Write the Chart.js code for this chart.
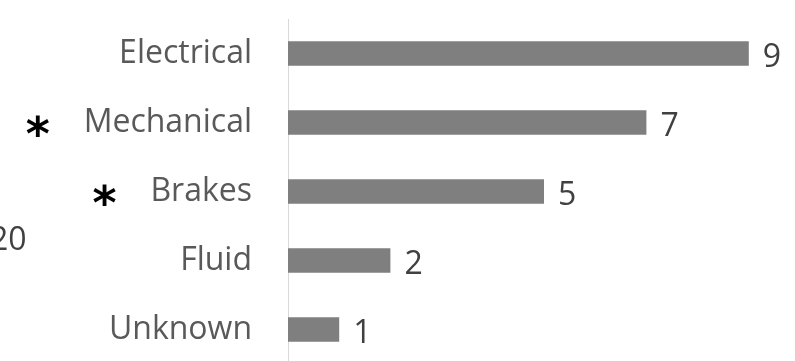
<!DOCTYPE html>
<html>
<head>
<meta charset="utf-8">
<script src="https://cdn.jsdelivr.net/npm/chart.js@4/dist/chart.umd.min.js"></script>
<style>
  html, body { margin: 0; padding: 0; background: #fff; overflow: hidden; }
  #wrap { position: relative; width: 795px; height: 361px; overflow: hidden; }
  #failChart { position: absolute; left: 0; top: 0; }
  /* clipped text of a neighbouring chart, left edge */
  .side-note { position: absolute; left: -10px; top: 222px; font: 32px/32px 'Open Sans'; color: #404040; }
</style>
</head>
<body>
<div id="wrap">
  <canvas id="failChart" width="800" height="366"></canvas>
  <div class="side-note">20</div>
</div>
<script>
const categories = ['Electrical', 'Mechanical', 'Brakes', 'Fluid', 'Unknown'];
const counts = [9, 7, 5, 2, 1];
const flagged = ['Mechanical', 'Brakes'];

const labelFont = { family: 'Open Sans', size: 32 };

// values written past the end of each bar
const valueLabels = {
  id: 'valueLabels',
  afterDatasetsDraw(chart) {
    const ctx = chart.ctx;
    const meta = chart.getDatasetMeta(0);
    ctx.save();
    ctx.font = labelFont.size + 'px ' + labelFont.family;
    ctx.fillStyle = '#404040';
    ctx.textAlign = 'left';
    ctx.textBaseline = 'middle';
    meta.data.forEach(function (bar, i) {
      ctx.fillText(String(counts[i]), bar.x + 14, bar.y + 4);
    });
    ctx.restore();
  }
};

// black asterisk in front of flagged categories
const asterisks = {
  id: 'asterisks',
  afterDraw(chart) {
    const ctx = chart.ctx;
    const yScale = chart.scales.y;
    const labelRight = yScale.right - yScale.options.ticks.padding;
    ctx.save();
    flagged.forEach(function (name) {
      const idx = categories.indexOf(name);
      if (idx < 0) return;
      ctx.font = labelFont.size + 'px ' + labelFont.family;
      const labelLeft = labelRight - ctx.measureText(name).width;
      ctx.font = 'bold 46px DejaVu Sans';
      const m = ctx.measureText('*');
      const inkRight = labelLeft - 34;
      const cy = yScale.getPixelForValue(idx) + 3;
      const x = inkRight - m.actualBoundingBoxRight;
      const y = cy + (m.actualBoundingBoxAscent - m.actualBoundingBoxDescent) / 2;
      ctx.fillStyle = '#000';
      ctx.textAlign = 'left';
      ctx.textBaseline = 'alphabetic';
      ctx.fillText('*', x, y);
    });
    ctx.restore();
  }
};

const ctx = document.getElementById('failChart').getContext('2d');

new Chart(ctx, {
  type: 'bar',
  data: {
    labels: categories,
    datasets: [{
      data: counts,
      backgroundColor: '#7f7f7f',
      borderWidth: 0,
      categoryPercentage: 1,
      barPercentage: 0.355
    }]
  },
  options: {
    indexAxis: 'y',
    responsive: false,
    animation: false,
    layout: { padding: { top: 19, bottom: 2, left: 0, right: 0 } },
    plugins: {
      legend: { display: false },
      tooltip: { enabled: false }
    },
    scales: {
      x: { display: false, min: 0, max: 10 },
      y: {
        afterFit: function (scale) {
          scale.width = 288;
          // labels sit well inside the band, no extra room needed
          scale.paddingTop = 0;
          scale.paddingBottom = 0;
        },
        grid: { display: false, drawTicks: false },
        border: { display: true, color: '#d9d9d9', width: 1 },
        ticks: { color: '#595959', font: labelFont, padding: 36 }
      }
    }
  },
  plugins: [valueLabels, asterisks]
});
</script>
</body>
</html>
